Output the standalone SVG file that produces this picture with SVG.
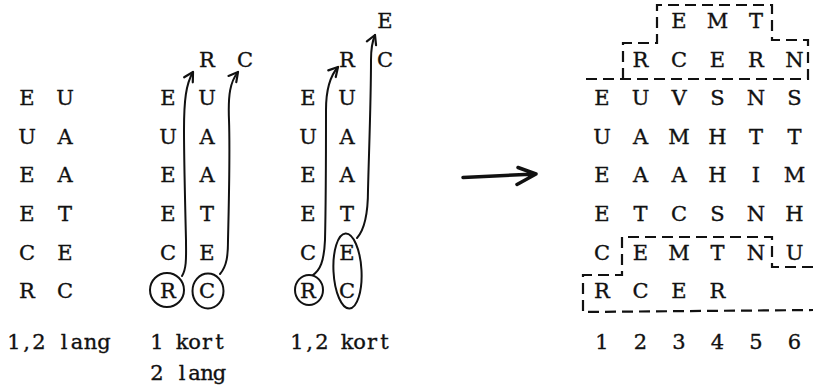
<svg xmlns="http://www.w3.org/2000/svg" width="813" height="392" viewBox="0 0 813 392">
  <style>
    .t { font-family: "DejaVu Serif", "Liberation Serif", serif; font-size: 21px; text-anchor: middle; fill: #111; stroke: #111; stroke-width: 0.35; }
    .ring { fill: none; stroke: #111; stroke-width: 2; }
    .arr { fill: none; stroke: #111; stroke-width: 2; stroke-linecap: round; marker-end: url(#head); }
    .dash { fill: none; stroke: #111; stroke-width: 2.2; stroke-dasharray: 11 6; }
    .big { fill: none; stroke: #111; stroke-width: 3.5; stroke-linecap: round; stroke-linejoin: round; }
  </style>
  <defs>
    <marker id="head" markerUnits="userSpaceOnUse" markerWidth="20" markerHeight="20" refX="0" refY="0" viewBox="-10 -10 20 20" orient="auto" overflow="visible">
      <path d="M-9,-5 L0,0 L-9,5" fill="none" stroke="#111" stroke-width="2.2" stroke-linecap="round" stroke-linejoin="round"/>
    </marker>
  </defs>
  <rect width="813" height="392" fill="#fff"/>

  <!-- stage 1: two columns -->
  <g id="stage1">
    <text class="t" x="27 65" y="105.2">EU</text>
    <text class="t" x="27 65" y="143.8">UA</text>
    <text class="t" x="27 65" y="182.4">EA</text>
    <text class="t" x="27 65" y="221">ET</text>
    <text class="t" x="27 65" y="259.6">CE</text>
    <text class="t" x="27 65" y="298.2">RC</text>
    <text class="t" x="14 26.5 39 51.5 64 77 90.5 104" y="349">1,2 lang</text>
  </g>

  <!-- stage 2: last letters moved up -->
  <g id="stage2">
    <text class="t" x="207 245" y="67">RC</text>
    <text class="t" x="168 207" y="105.2">EU</text>
    <text class="t" x="168 207" y="143.8">UA</text>
    <text class="t" x="168 207" y="182.4">EA</text>
    <text class="t" x="168 207" y="221">ET</text>
    <text class="t" x="168 207" y="259.6">CE</text>
    <text class="t" x="168 207" y="298.2">RC</text>
    <ellipse class="ring" cx="167" cy="290" rx="17" ry="17"/>
    <ellipse class="ring" cx="208" cy="291" rx="15.5" ry="17.5"/>
    <text class="t" x="157 169.5 182 194.5 207 219.5" y="349">1 kort</text>
    <text class="t" x="157 169.5 182 194.5 207 219.5" y="380">2 lang</text>
  </g>

  <!-- stage 3: pair of letters moved up -->
  <g id="stage3">
    <text class="t" x="385" y="28">E</text>
    <text class="t" x="347 385" y="67">RC</text>
    <text class="t" x="308 347" y="105.2">EU</text>
    <text class="t" x="308 347" y="143.8">UA</text>
    <text class="t" x="308 347" y="182.4">EA</text>
    <text class="t" x="308 347" y="221">ET</text>
    <text class="t" x="308 347" y="259.6">CE</text>
    <text class="t" x="308 347" y="298.2">RC</text>
    <ellipse class="ring" cx="309" cy="290" rx="14" ry="15"/>
    <ellipse class="ring" cx="347.5" cy="271" rx="14" ry="37.5" transform="rotate(-3 347.5 271)"/>
    <text class="t" x="297 309.5 322 334.5 347 359.5 372 384.5" y="349">1,2 kort</text>
  </g>

  <!-- result grid -->
  <g id="grid">
    <text class="t" x="679 717.5 756" y="28">EMT</text>
    <text class="t" x="640.5 679 717.5 756 794.5" y="67">RCERN</text>
    <text class="t" x="602 640.5 679 717.5 756 794.5" y="105.2">EUVSNS</text>
    <text class="t" x="602 640.5 679 717.5 756 794.5" y="143.8">UAMHTT</text>
    <text class="t" x="602 640.5 679 717.5 756 794.5" y="182.4">EAAHIM</text>
    <text class="t" x="602 640.5 679 717.5 756 794.5" y="221">ETCSNH</text>
    <text class="t" x="602 640.5 679 717.5 756 794.5" y="259.6">CEMTNU</text>
    <text class="t" x="602 640.5 679 717.5" y="298.2">RCER</text>
    <text class="t" x="602 640.5 679 717.5 756 794.5" y="349">123456</text>
    <path class="dash" d="M623,79 V43 H657 V5 H772 V40 H808 V79 H581"/>
    <path class="dash" d="M813,267 H772 V237 H622 V275 H583 V312 L813,310"/>
  </g>

  <!-- connectors -->
  <g id="connectors">
    <path class="arr" d="M182,276 C187,268 186,255 186,240 C185,200 184,160 184,130 C184,100 186,84 193,72"/>
    <path class="arr" d="M220,274 C227,266 228,255 228,240 C229,200 230,150 229,120 C228,95 230,82 238,72"/>
    <path class="arr" d="M313,275 C320,270 324,262 325,240 C326,200 326,150 326,110 C326,90 330,76 338,67"/>
    <path class="arr" d="M357,238 C366,228 368,210 368,190 C369,150 371,100 371,60 C371,50 372,42 375,35"/>
    <path class="big" d="M463,177.5 L536,174 M518,167.5 L536,174 L517,184.5"/>
  </g>
</svg>
